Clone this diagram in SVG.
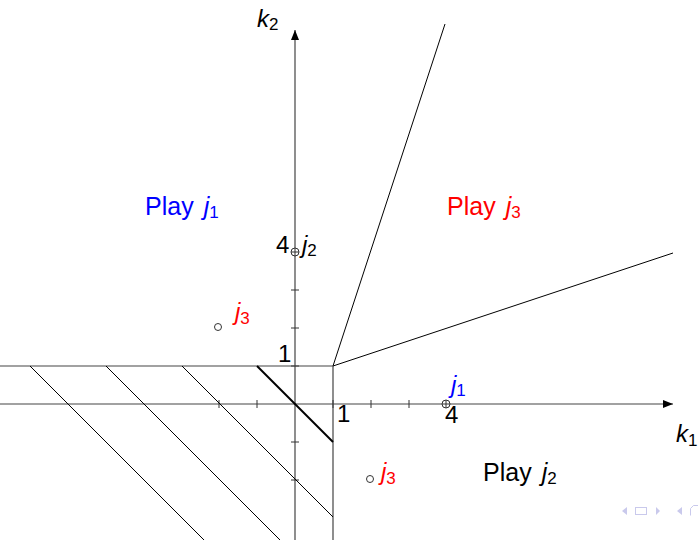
<svg xmlns="http://www.w3.org/2000/svg" width="698" height="540" viewBox="0 0 698 540">
<style>
text{font-family:"Liberation Sans","DejaVu Sans",sans-serif;font-size:24px;fill:#000}
.i{font-style:italic}
.s{font-size:17px}
.p{font-size:25px}
.axis{stroke:#444;stroke-width:1.2;fill:none}
.ln{stroke:#000;stroke-width:1;fill:none}
.tk{stroke:#333;stroke-width:1;fill:none}
.mk{stroke:#333;stroke-width:1;fill:#fff}
.blue{fill:#0000ff}
.red{fill:#ff0000}
.nav{fill:#c9c9ec;stroke:none}
</style>
<defs>
<marker id="arr" markerWidth="10" markerHeight="8" refX="10" refY="4" orient="auto" markerUnits="userSpaceOnUse">
<path d="M0,0 L10,4 L0,8 Z" fill="#000"/>
</marker>
</defs>
<g id="connectors">
<line class="axis" x1="0" y1="404" x2="673" y2="404" marker-end="url(#arr)"/>
<line class="axis" x1="295" y1="540" x2="295" y2="30" marker-end="url(#arr)"/>
<g id="ticks">
<path class="tk" d="M219,400V408M257,400V408M333,400V408M371,400V408M409,400V408M291,442H299M291,480H299M291,366H299M291,328H299M291,290H299"/>
</g>
<line class="axis" x1="0" y1="366" x2="333" y2="366"/>
<line class="axis" x1="333" y1="366" x2="333" y2="540"/>
<line class="ln" x1="333" y1="366" x2="445" y2="24"/>
<line class="ln" x1="333" y1="366" x2="673" y2="253"/>
<line class="ln" x1="30" y1="366" x2="204" y2="540"/>
<line class="ln" x1="106" y1="366" x2="280" y2="540"/>
<line class="ln" x1="182" y1="366" x2="333" y2="517"/>
<line class="ln" x1="257" y1="366" x2="333" y2="442" style="stroke-width:2"/>
</g>
<g id="axis-labels">
<text class="i" x="676" y="442">k<tspan class="s" font-style="normal" dy="4">1</tspan></text>
<text class="i" x="257" y="27">k<tspan class="s" font-style="normal" dy="3">2</tspan></text>
<text x="337" y="422">1</text>
<text x="278" y="362">1</text>
<text x="445" y="423">4</text>
</g>
<g id="point-j2">
<circle class="mk" cx="295" cy="252" r="4"/>
<path class="tk" d="M291,252H299M295,248V256"/>
<text x="276" y="253">4</text>
<text class="i" x="302" y="253">j<tspan class="s" font-style="normal" dy="3">2</tspan></text>
</g>
<g id="point-j1">
<circle class="mk" cx="446" cy="404" r="4"/>
<path class="tk" d="M442,404H450M446,400V408"/>
<text class="i blue" x="451" y="393">j<tspan class="s" font-style="normal" dy="3">1</tspan></text>
</g>
<g id="point-j3-a">
<circle class="mk" cx="218" cy="327" r="3.5"/>
<text class="i red" x="235" y="320">j<tspan class="s" font-style="normal" dy="4">3</tspan></text>
</g>
<g id="point-j3-b">
<circle class="mk" cx="370" cy="479" r="3.5"/>
<text class="i red" x="381" y="480">j<tspan class="s" font-style="normal" dy="4">3</tspan></text>
</g>
<g id="region-j1">
<text class="blue p" x="145" y="215">Play<tspan class="i" dx="10">j</tspan><tspan class="s" dy="3">1</tspan></text>
</g>
<g id="region-j3">
<text class="red p" x="447" y="215">Play<tspan class="i" dx="10">j</tspan><tspan class="s" dy="3">3</tspan></text>
</g>
<g id="region-j2">
<text class="p" x="483" y="481">Play<tspan class="i" dx="10">j</tspan><tspan class="s" dy="3">2</tspan></text>
</g>
<g id="nav">
<path class="nav" d="M622,511 L627,507 L627,515 Z"/>
<rect x="635.5" y="507.5" width="11" height="7" fill="none" stroke="#c9c9ec" stroke-width="1"/>
<path class="nav" d="M660,511 L656,507 L656,515 Z"/>
<path class="nav" d="M677,511 L682,507 L682,515 Z"/>
<path d="M690.5,515.5 V508.5 L693.5,505.5 H698" fill="none" stroke="#c9c9ec" stroke-width="1"/>
</g>
</svg>
